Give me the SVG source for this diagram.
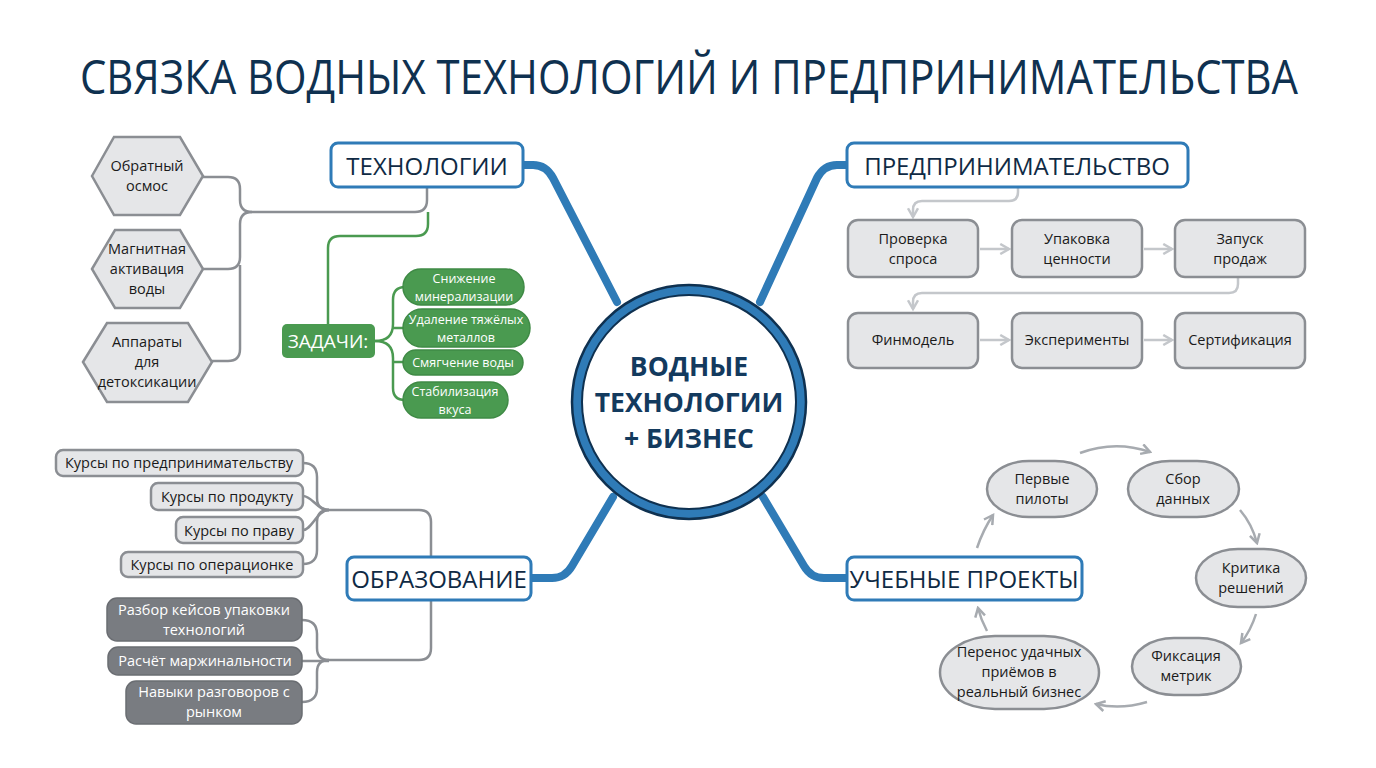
<svg xmlns="http://www.w3.org/2000/svg" width="1376" height="768" viewBox="0 0 1376 768">
<defs>
<style>
text{font-family:"Open Sans","Noto Sans","Liberation Sans",sans-serif;text-anchor:middle}
.title{font-size:48px;fill:#0f3150}
.branch rect{fill:#fff;stroke:#2f7bb7;stroke-width:3}
.branch text{font-size:24px;fill:#0f2a44}
.blue{fill:none;stroke:#2f7bb7;stroke-width:8;stroke-linecap:round;stroke-linejoin:round}
.gl{fill:none;stroke:#8b8e93;stroke-width:2.5}
.grn{fill:none;stroke:#4a9a50;stroke-width:2.5}
.arr{fill:none;stroke:#c4c7cb;stroke-width:2.5;marker-end:url(#ah)}
.carr{fill:none;stroke:#a7abb0;stroke-width:2.5;marker-end:url(#ah2)}
.hex polygon,.lg rect{fill:#e5e6e8;stroke:#8b8e93;stroke-width:2.5}
.t15{font-size:14.5px;fill:#1a1a1a}
.hx{font-size:14.5px;fill:#1a1a1a}
.gp rect{fill:#4a9a50;stroke:#3f8a45;stroke-width:1.5}
.gp text{font-size:12.5px;fill:#fff}
.dk rect{fill:#797c81;stroke:#6a6d72;stroke-width:1.5}
.dk text{font-size:14.5px;fill:#fff}
.cy rect{fill:#e5e6e8;stroke:#8b8e93;stroke-width:2.5}
</style>
<marker id="ah" viewBox="0 0 10 10" refX="8" refY="5" markerWidth="5" markerHeight="5" orient="auto" markerUnits="strokeWidth"><path d="M1,1 L8,5 L1,9" fill="none" stroke="#c4c7cb" stroke-width="2"/></marker>
<marker id="ah2" viewBox="0 0 10 10" refX="8" refY="5" markerWidth="5" markerHeight="5" orient="auto" markerUnits="strokeWidth"><path d="M1,1 L8,5 L1,9" fill="none" stroke="#a7abb0" stroke-width="2"/></marker>
</defs>
<rect width="1376" height="768" fill="#ffffff"/>
<text class="title" transform="translate(689,94) scale(0.872,1)" x="0" y="0">СВЯЗКА ВОДНЫХ ТЕХНОЛОГИЙ И ПРЕДПРИНИМАТЕЛЬСТВА</text>

<g id="connectors">
<path class="blue" d="M523,165 H533 Q546,165 553,178 L617,302"/>
<path class="blue" d="M847,165 H837 Q824,165 817,178 L760,302"/>
<path class="blue" d="M613,497 L572,566 Q565,578 552,578 H531"/>
<path class="blue" d="M763,497 L804,566 Q811,578 824,578 H847"/>
<path class="gl" d="M203,177 H228 Q240,177 240,189 V200 Q240,212 252,212 H415 Q427,212 427,200 V187"/>
<path class="gl" d="M203,269 H228 Q240,269 240,257 V224 Q240,212 252,212"/>
<path class="gl" d="M212,361 H228 Q240,361 240,349 V265"/>
<path class="grn" d="M428,212 V224 Q428,236 416,236 H340 Q328,236 328,248 V324"/>
<path class="grn" d="M375,341 Q393,341 393,324 V300 Q393,287 405,287"/>
<path class="grn" d="M375,341 Q393,341 393,358 V388 Q393,400 405,400"/>
<path class="grn" d="M393,328 H405 M393,362 H405"/>
<path class="gl" d="M303,463 Q317,463 317,477 V498 Q317,510 329,510 H419 Q431,510 431,522 V557"/>
<path class="gl" d="M303,496 C312,496 317,510 329,510"/>
<path class="gl" d="M303,530 C312,530 317,510 329,510"/>
<path class="gl" d="M303,564 Q317,564 317,550 V522 Q317,510 329,510"/>
<path class="gl" d="M431,600 V648 Q431,660 419,660 H329"/>
<path class="gl" d="M302,620 Q317,620 317,634 V648 Q317,660 329,660"/>
<path class="gl" d="M302,661 H329"/>
<path class="gl" d="M302,702 Q317,702 317,688 V672 Q317,660 329,660"/>
<path class="arr" d="M1018,188 V192 Q1018,201 1009,201 H922 Q913,201 913,210 V217"/>
<path class="arr" d="M1238,278 V284 Q1238,293 1229,293 H922 Q913,293 913,302 V309"/>
<path class="arr" d="M980,249 H1009"/>
<path class="arr" d="M1144,249 H1172"/>
<path class="arr" d="M980,340 H1009"/>
<path class="arr" d="M1144,340 H1172"/>
<path class="carr" d="M1080,453 Q1115,440 1150,452"/>
<path class="carr" d="M1240,510 Q1252,524 1257,543"/>
<path class="carr" d="M1256,614 Q1251,630 1241,643"/>
<path class="carr" d="M1147,702 Q1120,710 1096,704"/>
<path class="carr" d="M987,631 Q981,620 978,608"/>
<path class="carr" d="M977,548 Q983,530 993,515"/>
</g>

<g id="center">
<circle cx="689" cy="402" r="112" fill="#fff" stroke="#2f7bb7" stroke-width="10"/>
<circle cx="689" cy="402" r="117" fill="none" stroke="#0f3150" stroke-width="2.5"/>
<circle cx="689" cy="402" r="107" fill="none" stroke="#0f3150" stroke-width="2"/>
<text font-size="26.5" font-weight="bold" fill="#133a5e"><tspan x="689" y="376">ВОДНЫЕ</tspan><tspan x="689" y="412">ТЕХНОЛОГИИ</tspan><tspan x="689" y="448">+ БИЗНЕС</tspan></text>
</g>

<g id="b-tech" class="branch"><rect x="331" y="143" width="192" height="44" rx="7"/><text x="427" y="175">ТЕХНОЛОГИИ</text></g>
<g id="b-entr" class="branch"><rect x="847" y="143" width="341" height="44" rx="7"/><text x="1017" y="175">ПРЕДПРИНИМАТЕЛЬСТВО</text></g>
<g id="b-edu" class="branch"><rect x="347" y="557" width="184" height="43" rx="7"/><text x="439" y="588">ОБРАЗОВАНИЕ</text></g>
<g id="b-proj" class="branch"><rect x="847" y="557" width="235" height="43" rx="7"/><text x="964" y="588">УЧЕБНЫЕ ПРОЕКТЫ</text></g>

<g id="hex1" class="hex"><polygon points="92,176 114,137 180,137 203,176 180,215 114,215"/><text class="hx"><tspan x="147" y="171">Обратный</tspan><tspan x="147" y="191">осмос</tspan></text></g>
<g id="hex2" class="hex"><polygon points="92,269 115,230 180,230 203,269 180,308 115,308"/><text class="hx"><tspan x="147" y="254">Магнитная</tspan><tspan x="147" y="274">активация</tspan><tspan x="147" y="294">воды</tspan></text></g>
<g id="hex3" class="hex"><polygon points="83,362 107,323 188,323 212,362 188,402 107,402"/><text class="hx"><tspan x="147" y="347">Аппараты</tspan><tspan x="147" y="367">для</tspan><tspan x="147" y="387">детоксикации</tspan></text></g>

<g id="tasks"><rect x="282" y="324" width="93" height="34" rx="5" fill="#4a9a50"/><text x="328" y="348" font-size="19" fill="#fff">ЗАДАЧИ:</text></g>
<g id="g1" class="gp"><rect x="403" y="269" width="121" height="36" rx="18"/><text><tspan x="464" y="283">Снижение</tspan><tspan x="464" y="300.5">минерализации</tspan></text></g>
<g id="g2" class="gp"><rect x="403" y="309" width="127" height="38" rx="19"/><text><tspan x="466" y="324">Удаление тяжёлых</tspan><tspan x="466" y="341.5">металлов</tspan></text></g>
<g id="g3" class="gp"><rect x="403" y="350" width="120" height="25" rx="12.5"/><text x="463" y="367">Смягчение воды</text></g>
<g id="g4" class="gp"><rect x="403" y="382" width="105" height="36" rx="18"/><text><tspan x="455" y="396">Стабилизация</tspan><tspan x="455" y="413.5">вкуса</tspan></text></g>

<g id="c1" class="lg"><rect x="56" y="450" width="247" height="26" rx="7"/><text class="t15" x="179" y="468">Курсы по предпринимательству</text></g>
<g id="c2" class="lg"><rect x="151" y="483" width="152" height="27" rx="7"/><text class="t15" x="227" y="502">Курсы по продукту</text></g>
<g id="c3" class="lg"><rect x="176" y="517" width="127" height="26" rx="7"/><text class="t15" x="239" y="536">Курсы по праву</text></g>
<g id="c4" class="lg"><rect x="121" y="552" width="182" height="25" rx="7"/><text class="t15" x="212" y="570">Курсы по операционке</text></g>

<g id="d1" class="dk"><rect x="107" y="598" width="195" height="43" rx="10"/><text><tspan x="204" y="615">Разбор кейсов упаковки</tspan><tspan x="204" y="635">технологий</tspan></text></g>
<g id="d2" class="dk"><rect x="108" y="647" width="194" height="28" rx="10"/><text x="205" y="666">Расчёт маржинальности</text></g>
<g id="d3" class="dk"><rect x="126" y="681" width="176" height="43" rx="10"/><text><tspan x="214" y="697">Навыки разговоров с</tspan><tspan x="214" y="717">рынком</tspan></text></g>

<g id="e1" class="lg"><rect x="848" y="220" width="130" height="57" rx="10"/><text class="t15"><tspan x="913" y="244">Проверка</tspan><tspan x="913" y="264">спроса</tspan></text></g>
<g id="e2" class="lg"><rect x="1012" y="220" width="130" height="57" rx="10"/><text class="t15"><tspan x="1077" y="244">Упаковка</tspan><tspan x="1077" y="264">ценности</tspan></text></g>
<g id="e3" class="lg"><rect x="1175" y="220" width="130" height="57" rx="10"/><text class="t15"><tspan x="1240" y="244">Запуск</tspan><tspan x="1240" y="264">продаж</tspan></text></g>
<g id="e4" class="lg"><rect x="848" y="313" width="130" height="55" rx="10"/><text class="t15" x="913" y="345">Финмодель</text></g>
<g id="e5" class="lg"><rect x="1012" y="313" width="130" height="55" rx="10"/><text class="t15" x="1077" y="345">Эксперименты</text></g>
<g id="e6" class="lg"><rect x="1175" y="313" width="130" height="55" rx="10"/><text class="t15" x="1240" y="345">Сертификация</text></g>

<g id="p1" class="cy"><rect x="987" y="461" width="110" height="56" rx="42" ry="28"/><text class="t15"><tspan x="1042" y="484">Первые</tspan><tspan x="1042" y="504">пилоты</tspan></text></g>
<g id="p2" class="cy"><rect x="1128" y="461" width="111" height="56" rx="42" ry="28"/><text class="t15"><tspan x="1183" y="484">Сбор</tspan><tspan x="1183" y="504">данных</tspan></text></g>
<g id="p3" class="cy"><rect x="1196" y="549" width="110" height="58" rx="42" ry="29"/><text class="t15"><tspan x="1251" y="573">Критика</tspan><tspan x="1251" y="593">решений</tspan></text></g>
<g id="p4" class="cy"><rect x="1132" y="638" width="109" height="57" rx="42" ry="28.5"/><text class="t15"><tspan x="1186" y="661">Фиксация</tspan><tspan x="1186" y="681">метрик</tspan></text></g>
<g id="p5" class="cy"><rect x="940" y="636" width="159" height="73" rx="55" ry="36.5"/><text class="t15"><tspan x="1019" y="657">Перенос удачных</tspan><tspan x="1019" y="677">приёмов в</tspan><tspan x="1019" y="697">реальный бизнес</tspan></text></g>
</svg>
